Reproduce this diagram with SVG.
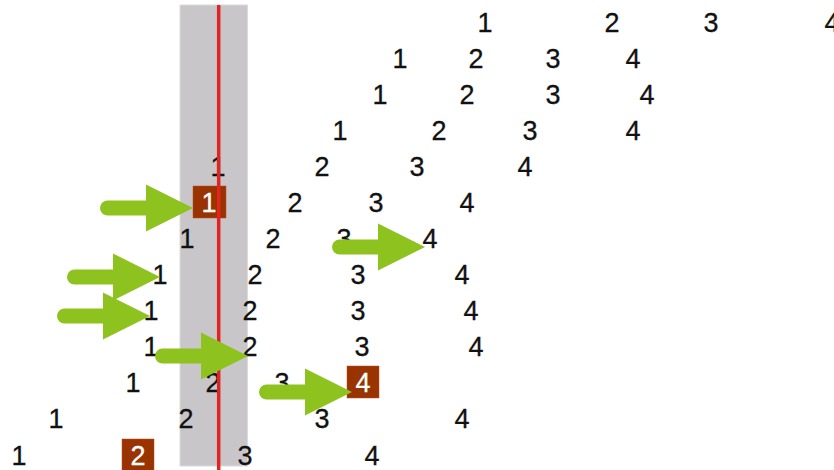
<svg xmlns="http://www.w3.org/2000/svg" width="834" height="470" viewBox="0 0 834 470">
<style>
  text { font-family: "Liberation Sans", Arial, sans-serif; font-size: 27px; fill: #111; stroke: #111; stroke-width: 0.3; text-anchor: middle; }
  text.hl { fill: #ffffff; stroke: #ffffff; }
  .box { fill: #993300; stroke: #b5502a; stroke-width: 0.5; }
  .band { fill: #c8c6c8; stroke: #dcdcdc; stroke-width: 1; }
  .red { stroke: #e02424; stroke-width: 3.5; }
  .shaft { stroke: #8dc21f; stroke-width: 15; stroke-linecap: round; fill: none; }
  .head { fill: #8dc21f; }
</style>
<defs>
  <g id="arrow">
    <line class="shaft" x1="-85.5" y1="0" x2="-46" y2="0"/>
    <polygon class="head" points="-47,-23.5 0,0 -47,23.5"/>
  </g>
</defs>
<g id="band">
  <rect class="band" x="180" y="5" width="67.5" height="461"/>
</g>
<g id="boxes">
  <rect class="box" x="193" y="186" width="33" height="32"/>
  <rect class="box" x="347" y="366" width="32" height="32"/>
  <rect class="box" x="122" y="439" width="32" height="32"/>
</g>
<g id="numbers">
  <g id="row0"><text x="485" y="31.5">1</text><text x="612" y="31.5">2</text><text x="711" y="31.5">3</text><text x="832" y="31.5">4</text></g>
  <g id="row1"><text x="400" y="67.6">1</text><text x="476" y="67.6">2</text><text x="553" y="67.6">3</text><text x="633" y="67.6">4</text></g>
  <g id="row2"><text x="380" y="103.7">1</text><text x="467" y="103.7">2</text><text x="553" y="103.7">3</text><text x="647" y="103.7">4</text></g>
  <g id="row3"><text x="340" y="139.7">1</text><text x="439" y="139.7">2</text><text x="530" y="139.7">3</text><text x="633" y="139.7">4</text></g>
  <g id="row4"><text x="218" y="175.8">1</text><text x="322" y="175.8">2</text><text x="417" y="175.8">3</text><text x="525" y="175.8">4</text></g>
  <g id="row5"><text class="hl" x="209" y="211.9">1</text><text x="295" y="211.9">2</text><text x="376" y="211.9">3</text><text x="467" y="211.9">4</text></g>
  <g id="row6"><text x="187" y="248">1</text><text x="273" y="248">2</text><text x="344" y="248">3</text><text x="430" y="248">4</text></g>
  <g id="row7"><text x="160" y="284.1">1</text><text x="255" y="284.1">2</text><text x="358" y="284.1">3</text><text x="462" y="284.1">4</text></g>
  <g id="row8"><text x="151" y="320.1">1</text><text x="250" y="320.1">2</text><text x="358" y="320.1">3</text><text x="471" y="320.1">4</text></g>
  <g id="row9"><text x="151" y="356.2">1</text><text x="250" y="356.2">2</text><text x="362" y="356.2">3</text><text x="476" y="356.2">4</text></g>
  <g id="row10"><text x="133" y="392.3">1</text><text x="213" y="392.3">2</text><text x="282" y="392.3">3</text><text class="hl" x="363" y="392.3">4</text></g>
  <g id="row11"><text x="56" y="428.4">1</text><text x="186" y="428.4">2</text><text x="322" y="428.4">3</text><text x="462" y="428.4">4</text></g>
  <g id="row12"><text x="19" y="464.5">1</text><text class="hl" x="138" y="464.5">2</text><text x="245" y="464.5">3</text><text x="372" y="464.5">4</text></g>
</g>
<g id="redline">
  <line class="red" x1="218.7" y1="5" x2="218.7" y2="470"/>
</g>
<g id="connectors">
  <use href="#arrow" transform="translate(193,208)"/>
  <use href="#arrow" transform="translate(425,247)"/>
  <use href="#arrow" transform="translate(160,277)"/>
  <use href="#arrow" transform="translate(150,316)"/>
  <use href="#arrow" transform="translate(248,356)"/>
  <use href="#arrow" transform="translate(352,392)"/>
</g>
</svg>
